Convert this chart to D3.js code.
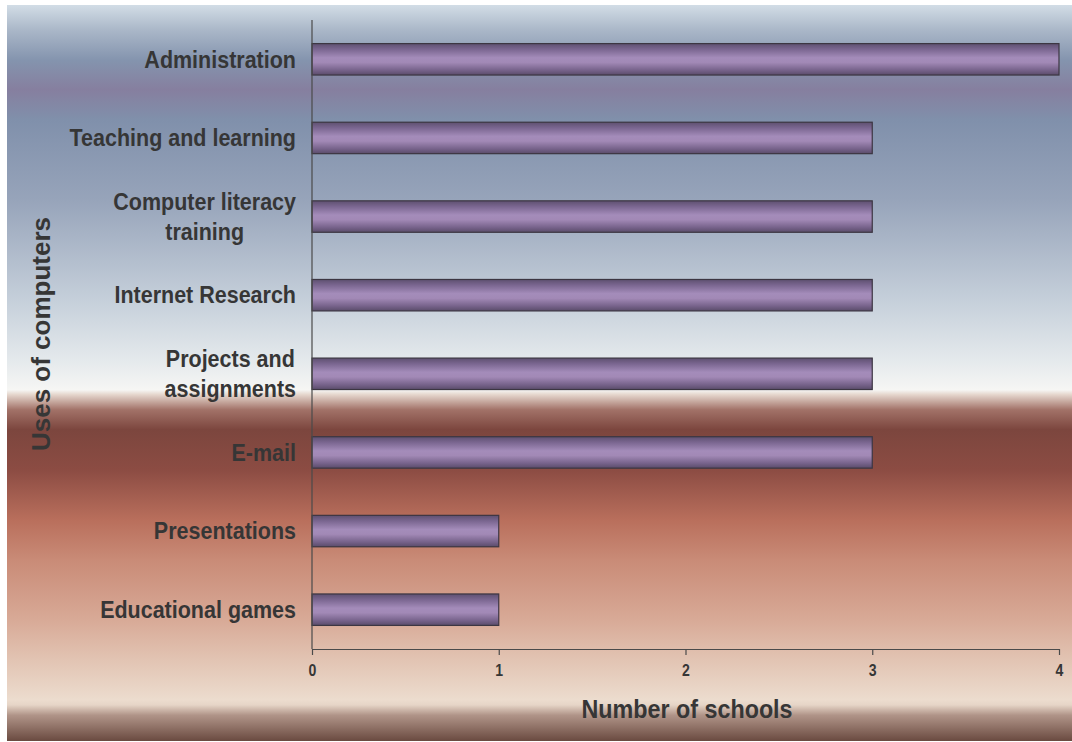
<!DOCTYPE html>
<html>
<head>
<meta charset="utf-8">
<script src="https://cdn.jsdelivr.net/npm/d3@7"></script>
<style>
  html, body { margin: 0; padding: 0; background: #ffffff; }
  svg { display: block; }
  text { font-family: "Liberation Sans", Arial, sans-serif; font-weight: bold; fill: #363636; }
</style>
</head>
<body>
<svg id="chart" width="1072" height="742"></svg>
<script>
// Uses of computers in schools
const categories = [
  ["Administration"],
  ["Teaching and learning"],
  ["Computer literacy", "training"],
  ["Internet Research"],
  ["Projects and", "assignments"],
  ["E-mail"],
  ["Presentations"],
  ["Educational games"]
];
const schools = [4, 3, 3, 3, 3, 3, 1, 1];
const xTicks = [0, 1, 2, 3, 4];
const xTitle = "Number of schools";
const yTitle = "Uses of computers";

const svg = d3.select("#chart");
const W = 1072, H = 742;
const defs = svg.append("defs");

// Background wash: cool blue-grey above, warm terracotta below
const bgStops = [
  [0.000, "#d2dde6"], [0.034, "#aab7c8"], [0.075, "#8494ae"], [0.115, "#867f9f"],
  [0.156, "#8090ab"], [0.265, "#97a4ba"], [0.400, "#c5cfda"], [0.482, "#e4e9ec"],
  [0.523, "#f6f6f4"], [0.529, "#e6d8cf"], [0.550, "#a27268"], [0.577, "#7c463e"],
  [0.632, "#8c4c43"], [0.700, "#b96f5c"], [0.754, "#c98b77"], [0.836, "#d8aa97"],
  [0.890, "#e2c4b3"], [0.944, "#ecdcce"], [0.951, "#e6d5c7"], [0.965, "#b09488"],
  [1.000, "#6a4a40"]
];
const bg = defs.append("linearGradient").attr("id", "bgGrad")
  .attr("x1", 0).attr("y1", 0).attr("x2", 0).attr("y2", 1);
bgStops.forEach(([o, c]) => bg.append("stop").attr("offset", o).attr("stop-color", c));

// Tubular bar shading
const barStops = [
  [0.00, "#5e5070"], [0.18, "#7a6690"], [0.45, "#a48cba"], [0.60, "#a289b6"],
  [0.85, "#76628a"], [1.00, "#5a4c6a"]
];
const bar = defs.append("linearGradient").attr("id", "barGrad")
  .attr("x1", 0).attr("y1", 0).attr("x2", 0).attr("y2", 1);
barStops.forEach(([o, c]) => bar.append("stop").attr("offset", o).attr("stop-color", c));

svg.append("rect").attr("x", 7).attr("y", 5).attr("width", W - 7).attr("height", 736)
  .attr("fill", "url(#bgGrad)");

const plot = { left: 312, right: 1059, top: 20, bottom: 649 };

const x = d3.scaleLinear().domain([0, 4]).range([plot.left, plot.right]);
const y = d3.scaleBand().domain(d3.range(categories.length))
  .range([plot.top, plot.bottom]).paddingInner(0.6).paddingOuter(0.3);

// Bars
svg.append("g").selectAll("rect").data(schools).join("rect")
  .attr("x", x(0))
  .attr("y", (d, i) => y(i))
  .attr("width", d => x(d) - x(0))
  .attr("height", y.bandwidth())
  .attr("fill", "url(#barGrad)")
  .attr("stroke", "#3c3642")
  .attr("stroke-width", 1.2);

// X axis
const xAxis = svg.append("g").attr("transform", `translate(0,${plot.bottom})`)
  .call(d3.axisBottom(x).tickValues(xTicks).tickFormat(d3.format("d")).tickSizeInner(6).tickSizeOuter(0).tickPadding(10));
xAxis.attr("font-size", null).attr("font-family", null);
xAxis.select(".domain").attr("stroke", "#4a4a4a").attr("stroke-width", 1.2);
xAxis.selectAll(".tick line").attr("stroke", "#4a4a4a").attr("stroke-width", 1.2);
xAxis.selectAll(".tick text")
  .style("font-size", "16px").style("fill", "#363636")
  .attr("transform", "scale(0.88,1)")
  .attr("x", 0);

// Y axis line
svg.append("line").attr("x1", plot.left).attr("x2", plot.left)
  .attr("y1", plot.top).attr("y2", plot.bottom)
  .attr("stroke", "#4a4a4a").attr("stroke-width", 1.2);

// Category labels, right aligned, multi-line blocks centred on themselves
const labelRight = 296, lineH = 30, sx = 0.935;
categories.forEach((lines, i) => {
  const cy = y(i) + y.bandwidth() / 2;
  const g = svg.append("g").attr("transform", `translate(${labelRight},${cy}) scale(${sx},1)`);
  const texts = lines.map((t, k) => g.append("text")
    .attr("font-size", 23)
    .attr("y", (k - (lines.length - 1) / 2) * lineH + 8.3)
    .text(t));
  const widths = texts.map(t => t.node().getComputedTextLength());
  const maxW = d3.max(widths);
  texts.forEach(t => t.attr("text-anchor", "middle").attr("x", -maxW / 2));
});

// Axis titles
svg.append("text")
  .attr("transform", `translate(687,718) scale(0.88,1)`)
  .attr("text-anchor", "middle").attr("font-size", 26.5)
  .text(xTitle);

svg.append("text")
  .attr("transform", `translate(50,334) rotate(-90)`)
  .attr("text-anchor", "middle").attr("font-size", 26)
  .text(yTitle);
</script>
</body>
</html>
